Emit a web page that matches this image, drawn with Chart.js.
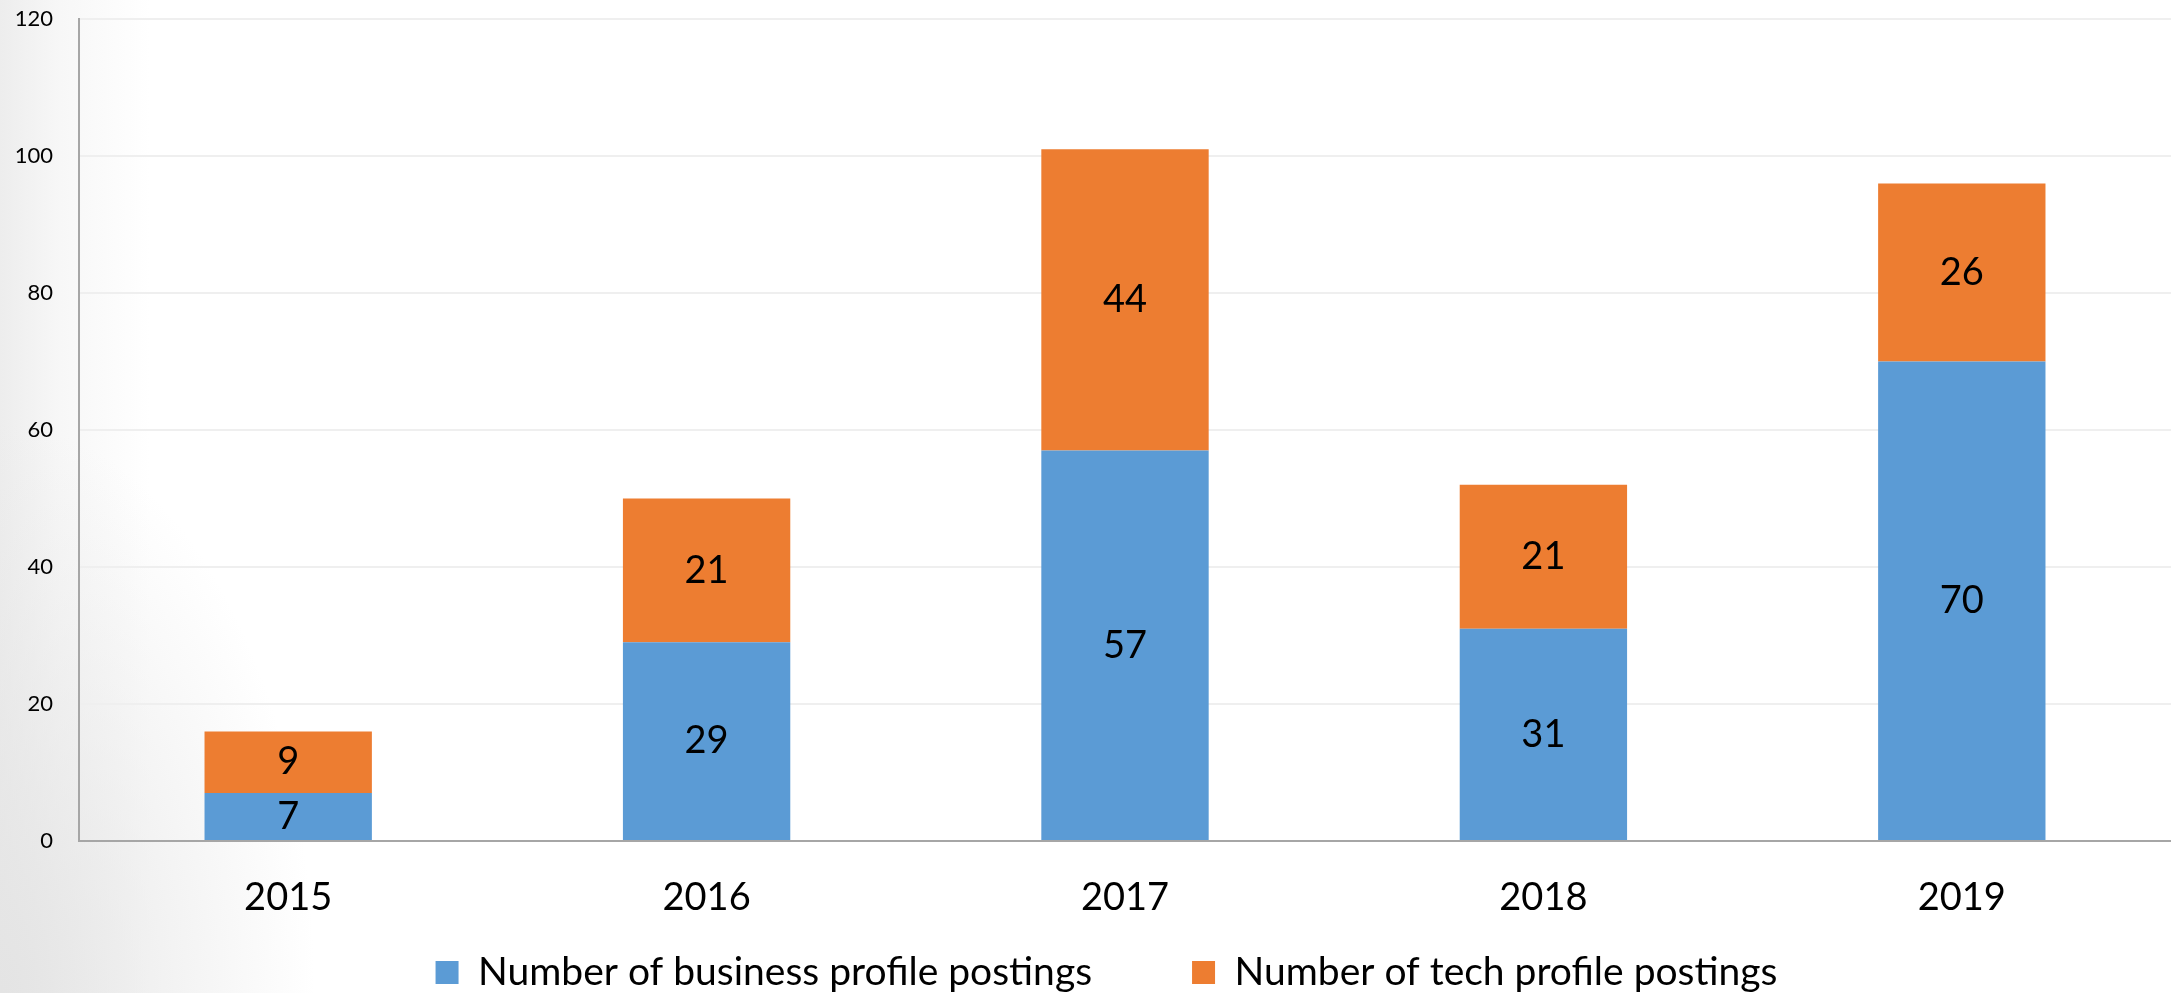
<!DOCTYPE html>
<html>
<head>
<meta charset="utf-8">
<script src="https://cdn.jsdelivr.net/npm/chart.js@4/dist/chart.umd.min.js"></script>
<style>
  html, body { margin: 0; padding: 0; }
  body {
    width: 2171px; height: 993px; overflow: hidden;
    background:
      radial-gradient(ellipse 420px 760px at 0% 100%, rgba(228,228,228,1) 0%, rgba(255,255,255,0) 75%),
      linear-gradient(90deg, #ededed 0px, #f7f7f7 60px, #ffffff 150px);
  }
  #wrap { position: relative; width: 2171px; height: 993px; }
</style>
</head>
<body>
<div id="wrap"><canvas id="myChart" width="2171" height="993"></canvas></div>
<script>
const years = ["2015", "2016", "2017", "2018", "2019"];
const businessPostings = [7, 29, 57, 31, 70];
const techPostings = [9, 21, 44, 21, 26];
const yTicks = [0, 20, 40, 60, 80, 100, 120];

const fontFamily = "Lato, 'Open Sans', sans-serif";
const legendGap = 100;   // space between the two legend entries
const legendHeight = 64;
const legendOffset = 24;
const legendShiftX = 21;

// draw the number in the middle of each bar segment
const segmentLabels = {
  id: "segmentLabels",
  afterDatasetsDraw(chart) {
    const ctx = chart.ctx;
    ctx.save();
    ctx.font = "38px " + fontFamily;
    ctx.fillStyle = "#000";
    ctx.textAlign = "center";
    ctx.textBaseline = "middle";
    chart.data.datasets.forEach((ds, i) => {
      chart.getDatasetMeta(i).data.forEach((bar, j) => {
        const mid = (bar.y + bar.base) / 2;
        ctx.fillText(ds.data[j], bar.x, mid);
      });
    });
    ctx.restore();
  }
};

// legend padding is used both between items and above/below them,
// so keep the wide gap but squeeze the box height
const compactLegend = {
  id: "compactLegend",
  afterInit(chart) {
    const legend = chart.legend;
    if (!legend) return;
    const fit = legend.fit;
    legend.fit = function () {
      fit.call(this);
      this.height = legendHeight;
    };
    const draw = legend.draw;
    legend.draw = function () {
      const t = this.top, l = this.left, r = this.right;
      this.top = t - legendGap + legendOffset;
      this.left = l + legendShiftX;
      this.right = r + legendShiftX;
      draw.call(this);
      this.top = t;
      this.left = l;
      this.right = r;
    };
  }
};

const config = {
  type: "bar",
  data: {
    labels: years,
    datasets: [
      {
        label: "Number of business profile postings",
        data: businessPostings,
        backgroundColor: "#5B9BD5",
        borderWidth: 0,
        categoryPercentage: 0.8,
        barPercentage: 0.5
      },
      {
        label: "Number of tech profile postings",
        data: techPostings,
        backgroundColor: "#ED7D31",
        borderWidth: 0,
        categoryPercentage: 0.8,
        barPercentage: 0.5
      }
    ]
  },
  options: {
    responsive: false,
    animation: false,
    layout: { padding: { top: 0, right: 0, bottom: 0, left: 0 } },
    plugins: {
      tooltip: { enabled: false },
      legend: {
        position: "bottom",
        labels: {
          color: "#000",
          font: { family: fontFamily, size: 39 },
          boxWidth: 23,
          boxHeight: 23,
          padding: legendGap
        }
      }
    },
    scales: {
      x: {
        stacked: true,
        grid: { display: false, drawTicks: false },
        border: { color: "#a6a6a6", width: 2 },
        ticks: { color: "#000", font: { family: fontFamily, size: 38 }, padding: 34 },
        afterFit(scale) { scale.height = 88; }
      },
      y: {
        stacked: true,
        min: 0,
        max: 120,
        afterBuildTicks(scale) { scale.ticks = yTicks.map(v => ({ value: v })); },
        grid: { color: "#efefef", lineWidth: 2, drawTicks: false },
        border: { color: "#a6a6a6", width: 2 },
        ticks: { color: "#000", font: { family: fontFamily, size: 22 }, padding: 26 },
        afterFit(scale) {
          scale.width = 79;
          scale.paddingTop = 19;
          scale.paddingBottom = 0;
        }
      }
    }
  },
  plugins: [segmentLabels, compactLegend]
};

new Chart(document.getElementById("myChart"), config);
</script>
</body>
</html>
